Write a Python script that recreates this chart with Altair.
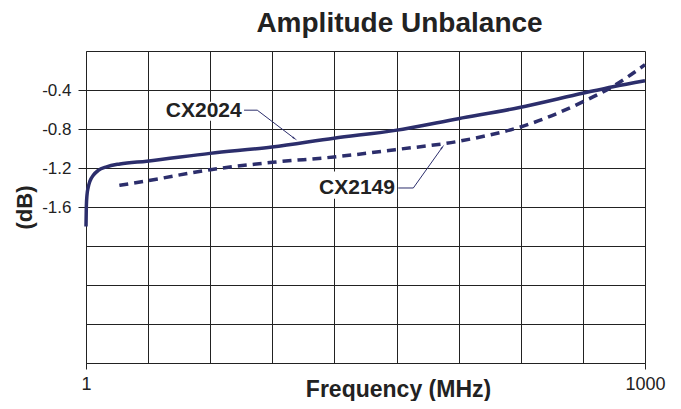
import altair as alt
import pandas as pd

# ---- data ----
CX2024_F = [1.0, 1.004, 1.012, 1.027, 1.05, 1.094, 1.164, 1.29, 1.52, 2.12, 4.63,
            9.96, 21.4, 45.7, 99.5, 209, 469, 673, 1000]
CX2024_DB = [-1.80, -1.60, -1.48, -1.40, -1.335, -1.275, -1.225, -1.188, -1.158, -1.13,
             -1.05, -0.985, -0.894, -0.814, -0.694, -0.582, -0.431, -0.366, -0.305]

CX2149_F = [1.51, 2.15, 4.66, 10, 21.4, 45.7, 99.5, 140, 209, 469, 673, 1000]
CX2149_DB = [-1.378, -1.33, -1.217, -1.142, -1.087, -1.012, -0.927, -0.87, -0.786,
             -0.517, -0.363, -0.14]

X_GRID = [1, 2.15443, 4.64159, 10, 21.5443, 46.4159, 100, 215.443, 464.159, 1000]
X_LABELED = [1, 1000]
Y_GRID = [0, -0.4, -0.8, -1.2, -1.6, -2.0, -2.4, -2.8, -3.2]
Y_LABELED = [-0.4, -0.8, -1.2, -1.6]

LABEL_TEXT = ["CX2024", "CX2149"]
LABEL_F = [6.85, 45.5]
LABEL_DB = [-0.62, -1.41]
BOX_F1 = [2.40, 16.3]
BOX_F2 = [6.96, 46.7]
BOX_DB1 = [-0.52, -1.235]
BOX_DB2 = [-0.715, -1.515]

LEADER_ID = ["a", "a", "a", "b", "b", "b"]
LEADER_ORD = [0, 1, 2, 0, 1, 2]
LEADER_F = [7.05, 8.30, 13.1, 47.4, 57.1, 81.5]
LEADER_DB = [-0.607, -0.607, -0.895, -1.405, -1.405, -0.99]
ARROW_F = [13.1, 81.5]
ARROW_DB = [-0.895, -0.99]
ARROW_ANGLE = [127, 36]

NAVY = "#2c2e6c"
FONT = "Liberation Sans"

s1 = pd.DataFrame({"f": CX2024_F, "db": CX2024_DB})
s2 = pd.DataFrame({"f": CX2149_F, "db": CX2149_DB})
labels = pd.DataFrame({"t": LABEL_TEXT, "f": LABEL_F, "db": LABEL_DB})
boxes = pd.DataFrame({"f": BOX_F1, "f2": BOX_F2, "db": BOX_DB1, "d2": BOX_DB2})
leaders = pd.DataFrame({"id": LEADER_ID, "o": LEADER_ORD, "f": LEADER_F, "db": LEADER_DB})
arrows = pd.DataFrame({"f": ARROW_F, "db": ARROW_DB, "a": ARROW_ANGLE})

xscale = alt.Scale(type="log", domain=[1, 1000])
yscale = alt.Scale(domain=[-3.2, 0])

x_test = " || ".join(f"datum.value == {v}" for v in X_LABELED)
y_list = ",".join(str(v) for v in Y_LABELED)
y_test = f"indexof([{y_list}], datum.value) >= 0"

x_axis = alt.Axis(
    values=X_GRID, grid=True, gridColor="#222222", gridWidth=1, gridOpacity=1,
    domainColor="#222222", domainWidth=1,
    tickColor="#222222", tickSize=6,
    tickOpacity={"condition": {"test": x_test, "value": 1}, "value": 0},
    labelExpr=f"({x_test}) ? datum.value + '' : ''",
    labelFlush=False, labelFont=FONT, labelFontSize=18, labelColor="#222222",
    labelPadding=6,
    title="Frequency (MHz)", titleFont=FONT, titleFontSize=23, titleFontWeight="bold",
    titleColor="#222222", titleX=312, titleY=33, titleBaseline="alphabetic",
    titleAlign="center",
)
y_axis = alt.Axis(
    values=Y_GRID, grid=True, gridColor="#222222", gridWidth=1, gridOpacity=1,
    domainColor="#222222", domainWidth=1,
    tickColor="#222222", tickSize=8,
    tickOpacity={"condition": {"test": y_test, "value": 1}, "value": 0},
    labelExpr=f"({y_test}) ? datum.value + '' : ''",
    labelFont=FONT, labelFontSize=17, labelColor="#222222", labelPadding=7,
    title="(dB)", titleFont=FONT, titleFontSize=22, titleFontWeight="bold",
    titleColor="#222222", titleX=-62, titleY=156, titleAngle=270,
    titleBaseline="middle", titleAlign="center",
)

X = alt.X("f:Q", scale=xscale, axis=x_axis)
Y = alt.Y("db:Q", scale=yscale, axis=y_axis)

line1 = alt.Chart(s1).mark_line(color=NAVY, strokeWidth=3.5, interpolate="monotone").encode(
    x=X, y=Y)
line2 = alt.Chart(s2).mark_line(color=NAVY, strokeWidth=3.5, strokeDash=[9, 6],
                                interpolate="monotone").encode(x=X, y=Y)
box = alt.Chart(boxes).mark_rect(color="white").encode(x=X, x2="f2:Q", y=Y, y2="d2:Q")
lead = alt.Chart(leaders).mark_line(color=NAVY, strokeWidth=1).encode(
    x=X, y=Y, detail="id:N", order="o:Q")
arrow = alt.Chart(arrows).mark_point(shape="wedge", filled=True, color=NAVY, size=45,
                                     opacity=1).encode(
    x=X, y=Y, angle=alt.Angle("a:Q", scale=None))
txt = alt.Chart(labels).mark_text(align="right", baseline="middle", font=FONT,
                                  fontSize=21, fontWeight="bold", color="#222222").encode(
    x=X, y=Y, text="t:N")

chart = alt.layer(line1, box, line2, lead, arrow, txt).properties(
    width=559, height=312,
    autosize=alt.AutoSizeParams(type="none"),
    padding={"left": 78, "top": 43, "right": 28, "bottom": 38},
    title=alt.TitleParams("Amplitude Unbalance", font=FONT, fontSize=28,
                          fontWeight="bold", color="#222222", anchor="middle",
                          frame="group", dx=34, dy=27, offset=18, baseline="alphabetic"),
).configure_view(stroke=None)

chart.save("out.html", embed_options={"renderer": "svg", "actions": False})
